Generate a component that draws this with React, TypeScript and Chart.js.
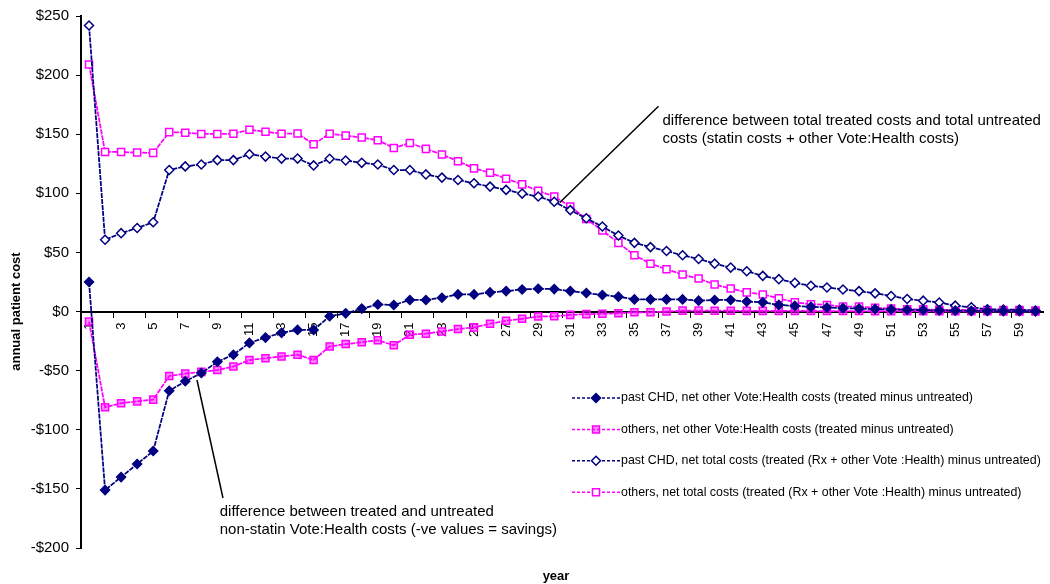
import React, { useEffect, useRef } from 'react';
import { Chart, registerables } from 'chart.js';

Chart.register(...registerables);

const years: string[] = Array.from({ length: 60 }, (_, i) => String(i + 1));

const pastChdOther = [
  25, -151, -140, -129, -118, -67, -59, -52, -42.5, -36.5,
  -26.5, -22, -18, -15.5, -15.5, -4, -1.5, 2.5, 6, 5.5,
  9.8, 9.8, 11.7, 14.5, 14.5, 16.2, 17.3, 18.7, 19.3, 19,
  17.3, 15.7, 14, 12.6, 10.3, 10.3, 10.3, 10.3, 9.2, 9.8,
  9.8, 8.4, 7.8, 5.6, 4.8, 4, 3.4, 2.9, 2.5, 2.1,
  1.8, 1.5, 1.2, 1, 0.8, 0.6, 0.5, 0.4, 0.3, 0.2,
];

const othersOther = [
  -8.5, -81, -77.5, -76, -74.5, -54.5, -52.5, -51, -49.5, -46.5,
  -41, -39.5, -38, -36.5, -41, -29.5, -27.5, -26, -24.3, -28.5,
  -19.6, -18.7, -16.8, -14.8, -13.4, -10.3, -7.8, -6.1, -4.2, -4,
  -2.8, -2.2, -1.9, -1.4, -0.6, -0.6, 0, 0.8, 0.8, 0.7,
  0.7, 0.6, 0.6, 0.5, 0.5, 0.5, 0.4, 0.4, 0.4, 0.3,
  0.3, 0.3, 0.3, 0.2, 0.2, 0.2, 0.2, 0.1, 0.1, 0.1,
];

const pastChdTotal = [
  242, 60.7, 66.3, 70.7, 75.5, 119.7, 122.8, 124.4, 128.1, 128.1,
  133.1, 131.1, 129.4, 129.4, 123.6, 129.2, 127.8, 125.8, 124.4, 119.7,
  119.7, 116, 113.3, 111.3, 108.5, 105.7, 102.9, 99.8, 97.3, 92.9,
  85.8, 78.9, 71.9, 64.3, 58.1, 54.5, 51.2, 47.6, 44.5, 40.5,
  37.2, 34.1, 30.2, 27.4, 24.3, 21.8, 20.4, 18.7, 17.3, 15.4,
  13.2, 10.6, 9.2, 7.6, 5, 3.6, 1.9, 1.7, 1.7, 0.8,
];

const othersTotal = [
  209, 135, 135, 134.5, 134.2, 151.8, 151.3, 150.2, 150.2, 150.4,
  153.8, 152.1, 150.4, 150.6, 141.5, 150.4, 148.8, 147.2, 144.9, 138.4,
  142.6, 137.6, 132.8, 127.2, 121.1, 117.4, 112.4, 107.6, 102.1, 97.3,
  88.9, 78.3, 68.5, 58.1, 47.6, 40.5, 35.8, 31.3, 27.9, 22.9,
  19.5, 16.2, 14.5, 11.2, 7.8, 6.2, 5.6, 4.2, 4.2, 3.1,
  2.5, 1.9, 1.9, 1.4, 1.4, 1.4, 1.2, 1.2, 1.2, 0.8,
];

const seriesLabels = [
  'past CHD, net other Vote:Health costs (treated minus untreated)',
  'others, net other Vote:Health costs (treated minus untreated)',
  'past CHD, net total costs (treated (Rx + other Vote :Health) minus untreated)',
  'others, net total costs (treated (Rx + other Vote :Health) minus untreated)',
];

const NAVY = '#000080';
const MAGENTA = '#ff00ff';
const FONT = '"Liberation Sans", Arial, sans-serif';

const seriesStyles = [
  { color: NAVY, fill: NAVY, shape: 'diamond' },
  { color: MAGENTA, fill: 'rgba(255,0,255,0.45)', shape: 'square' },
  { color: NAVY, fill: '#ffffff', shape: 'diamond' },
  { color: MAGENTA, fill: '#ffffff', shape: 'square' },
];

// annotations in data units (category index, value)
const annotations = [
  {
    from: [35.5, 173.7], to: [29.35, 92.3],
    text: ['difference between total treated costs and total untreated', 'costs (statin costs + other Vote:Health costs)'],
    textAt: [35.75, 161],
  },
  {
    from: [6.73, -57.9], to: [8.35, -157.7],
    text: ['difference between treated and untreated', 'non-statin Vote:Health costs (-ve values = savings)'],
    textAt: [8.15, -169.8],
  },
];

function drawMarker(ctx: CanvasRenderingContext2D, shape: string, x: number, y: number, stroke: string, fill: string) {
  ctx.beginPath();
  if (shape === 'diamond') {
    const r = 4.5;
    ctx.moveTo(x, y - r);
    ctx.lineTo(x + r, y);
    ctx.lineTo(x, y + r);
    ctx.lineTo(x - r, y);
    ctx.closePath();
  } else {
    const s = 3.5;
    ctx.rect(x - s, y - s, 2 * s, 2 * s);
  }
  ctx.fillStyle = fill;
  ctx.fill();
  ctx.setLineDash([]);
  ctx.strokeStyle = stroke;
  ctx.lineWidth = 1.5;
  ctx.stroke();
}

const overlayPlugin = {
  id: 'overlay',
  afterDraw(chart: any) {
    const { ctx, scales } = chart;
    const xs = scales.x;
    const ys = scales.y;
    ctx.save();

    // annotations
    ctx.fillStyle = '#000';
    ctx.font = `15px ${FONT}`;
    ctx.textAlign = 'left';
    ctx.textBaseline = 'middle';
    annotations.forEach((a) => {
      ctx.beginPath();
      ctx.setLineDash([]);
      ctx.strokeStyle = '#000';
      ctx.lineWidth = 1.5;
      ctx.moveTo(xs.getPixelForValue(a.from[0]), ys.getPixelForValue(a.from[1]));
      ctx.lineTo(xs.getPixelForValue(a.to[0]), ys.getPixelForValue(a.to[1]));
      ctx.stroke();
      const tx = xs.getPixelForValue(a.textAt[0]);
      const ty = ys.getPixelForValue(a.textAt[1]);
      a.text.forEach((t, i) => ctx.fillText(t, tx, ty + i * 18));
    });

    // legend
    const lx0 = 572;
    const lx1 = 620;
    const ly0 = 398;
    const lstep = 31.4;
    ctx.font = `12.4px ${FONT}`;
    seriesLabels.forEach((label, i) => {
      const st = seriesStyles[i];
      const ly = ly0 + i * lstep;
      ctx.beginPath();
      ctx.setLineDash([3, 2]);
      ctx.strokeStyle = st.color;
      ctx.lineWidth = 1.5;
      ctx.moveTo(lx0, ly);
      ctx.lineTo(lx1, ly);
      ctx.stroke();
      drawMarker(ctx, st.shape, (lx0 + lx1) / 2, ly, st.color, st.fill);
      ctx.fillStyle = '#000';
      ctx.textAlign = 'left';
      ctx.textBaseline = 'middle';
      ctx.fillText(label, lx1 + 1, ly);
    });

    // axis titles
    ctx.font = `bold 13px ${FONT}`;
    ctx.fillStyle = '#000';
    ctx.textAlign = 'center';
    ctx.textBaseline = 'middle';
    ctx.fillText('year', 556, 576);
    ctx.save();
    ctx.translate(16, ys.getPixelForValue(0));
    ctx.rotate(-Math.PI / 2);
    ctx.fillText('annual patient cost', 0, 0);
    ctx.restore();

    ctx.restore();
  },
};

export default function App() {
  const canvasRef = useRef<HTMLCanvasElement | null>(null);

  useEffect(() => {
    const canvas = canvasRef.current;
    if (!canvas) return;
    const datasets = [pastChdOther, othersOther, pastChdTotal, othersTotal].map((data, i) => {
      const st = seriesStyles[i];
      return {
        label: seriesLabels[i],
        data,
        borderColor: st.color,
        backgroundColor: st.fill,
        borderWidth: 1.75,
        borderDash: [5, 1],
        pointStyle: st.shape === 'diamond' ? 'rectRot' : 'rect',
        pointRadius: st.shape === 'diamond' ? 4.5 : 5,
        pointBorderWidth: 1.5,
        pointBorderColor: st.color,
        pointBackgroundColor: st.fill,
        tension: 0,
        fill: false,
      };
    });

    const chart = new Chart(canvas, {
      type: 'line',
      data: { labels: years, datasets: datasets as any },
      plugins: [overlayPlugin],
      options: {
        responsive: false,
        animation: false,
        devicePixelRatio: 1,
        layout: { padding: { left: 0, top: 12, right: 6, bottom: 36 } },
        plugins: {
          legend: { display: false },
          tooltip: { enabled: false },
          title: { display: false },
        },
        scales: {
          x: {
            type: 'category',
            position: { y: 0 } as any,
            offset: true,
            grid: {
              display: true,
              drawOnChartArea: false,
              drawTicks: true,
              tickLength: 5,
              offset: true,
              lineWidth: 1,
              color: (c: any) => (c.index % 2 === 0 ? '#000' : 'rgba(0,0,0,0)'),
            },
            border: { display: true, color: '#000', width: 2, dash: [2, 2] },
            ticks: {
              autoSkip: false,
              minRotation: 90,
              maxRotation: 90,
              padding: 6,
              color: '#000',
              font: { family: FONT, size: 13 },
              callback: (_v: any, i: number) => (i % 2 === 0 ? years[i] : ''),
            },
            afterFit: (s: any) => {
              s.paddingLeft = 0;
              s.paddingRight = 0;
            },
          },
          y: {
            min: -200,
            max: 250,
            grid: { display: true, drawOnChartArea: false, drawTicks: true, tickLength: 5, color: '#000' },
            border: { display: true, color: '#000', width: 2, dash: [2, 2] },
            ticks: {
              stepSize: 50,
              padding: 7,
              color: '#000',
              font: { family: FONT, size: 15 },
              callback: (v: any) => (Number(v) < 0 ? `-$${Math.abs(Number(v))}` : `$${v}`),
            },
            afterFit: (s: any) => {
              s.width = 81;
            },
          },
        },
      },
    });
    return () => chart.destroy();
  }, []);

  return (
    <div style={{ position: 'absolute', left: 0, top: 0, width: 1050, height: 584, background: '#fff' }}>
      <canvas ref={canvasRef} width={1050} height={584} />
    </div>
  );
}
